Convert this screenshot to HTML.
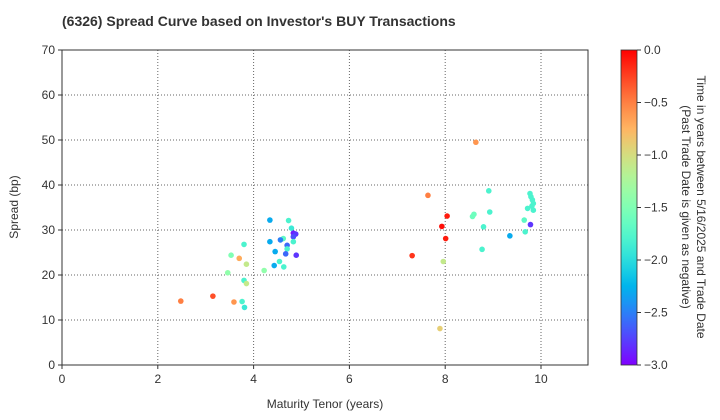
<!DOCTYPE html>
<html><head><meta charset="utf-8"><style>
body{margin:0;background:#fff;}
svg{display:block;font-family:"Liberation Sans","DejaVu Sans",sans-serif;}
</style></head><body>
<svg id="chart" width="720" height="420">
<defs><linearGradient id="cbgrad" x1="0" y1="1" x2="0" y2="0"></linearGradient></defs>
<text x="62" y="26" font-size="14" font-weight="bold" fill="#333">(6326)   Spread Curve based on Investor's BUY Transactions</text>
<g id="grid"></g>
<g id="points"></g>
<rect x="62" y="50" width="526" height="315" fill="none" stroke="#333" stroke-width="1"/>
<g id="xticks"></g>
<g id="yticks"></g>
<text x="325" y="408" font-size="12" text-anchor="middle" fill="#333">Maturity Tenor (years)</text>
<text transform="translate(18,207) rotate(-90)" font-size="12" text-anchor="middle" fill="#333">Spread (bp)</text>
<rect x="621" y="50" width="16" height="315" fill="url(#cbgrad)" stroke="#333" stroke-width="0.8"/>
<g id="cbticks"></g>
<text transform="translate(697,207) rotate(90)" font-size="12" text-anchor="middle" fill="#333"><tspan x="0" dy="0">Time in years between 5/16/2025 and Trade Date</tspan><tspan x="0" dy="15">(Past Trade Date is given as negative)</tspan></text>
</svg>
<script>
const tenors=[2.48,3.15,3.59,3.76,3.81,3.46,3.80,3.85,3.53,3.70,3.85,3.80,4.22,4.34,4.73,4.79,4.83,4.88,4.83,4.83,4.62,4.56,4.34,4.70,4.70,4.45,4.67,4.89,4.54,4.43,4.63,
8.64,7.64,8.04,7.93,8.01,7.31,7.96,7.89,8.91,8.60,8.57,8.93,8.80,8.77,9.35,9.65,9.67,9.78,9.77,9.79,9.82,9.84,9.81,9.72,9.84];
const spreads=[14.2,15.3,14.0,14.1,12.8,20.5,18.8,18.1,24.4,23.7,22.4,26.8,21.0,32.2,32.1,30.4,29.3,29.1,28.5,27.4,28.1,27.8,27.4,26.6,25.8,25.2,24.7,24.4,23.0,22.1,21.8,
49.5,37.7,33.1,30.8,28.1,24.3,23.0,8.1,38.7,33.5,33.0,34.0,30.7,25.7,28.7,32.2,29.6,31.2,38.1,37.4,36.7,35.9,35.3,34.8,34.4];
const times=[-0.5,-0.3,-0.6,-1.8,-1.9,-1.4,-1.8,-1.1,-1.5,-0.7,-1.1,-1.8,-1.4,-2.3,-1.8,-1.9,-2.9,-2.8,-2.7,-1.8,-1.7,-2.5,-2.3,-2.6,-1.8,-2.3,-2.6,-2.8,-1.8,-2.3,-1.8,
-0.6,-0.5,-0.1,-0.05,-0.1,-0.2,-1.1,-0.9,-1.8,-1.6,-1.6,-1.8,-1.8,-1.8,-2.3,-1.7,-1.8,-2.8,-1.8,-1.8,-1.8,-1.8,-1.8,-1.8,-1.8];
const xTickVals=[0,2,4,6,8,10];
const yTickVals=[0,10,20,30,40,50,60,70];
const cbTickVals=[0,-0.5,-1,-1.5,-2,-2.5,-3];
const NS="http://www.w3.org/2000/svg";
const L=62,R=588,T=50,B=365;
const xs=v=>L+v*(541-62)/10;
const ys=v=>B-(v/70)*(B-T);
const cs=v=>B-((v+3)/3)*(B-T);
function rainbow(f){const r=Math.min(1,Math.abs(2*f-0.5)),g=Math.sin(Math.PI*f),b=Math.cos(Math.PI*f/2);return `rgb(${Math.round(r*255)},${Math.round(g*255)},${Math.round(Math.max(0,b)*255)})`;}
function mk(tag,attrs,parent){const e=document.createElementNS(NS,tag);for(const k in attrs)e.setAttribute(k,attrs[k]);parent.appendChild(e);return e;}
const grid=document.getElementById('grid');
xTickVals.forEach(v=>{const l=mk('line',{x1:xs(v),x2:xs(v),y1:T,y2:B,stroke:'#666','stroke-width':1,'stroke-dasharray':'1,2'},grid);

});
yTickVals.forEach(v=>{const l=mk('line',{x1:L,x2:R,y1:ys(v),y2:ys(v),stroke:'#666','stroke-width':1,'stroke-dasharray':'1,2'},grid);

});
const xt=document.getElementById('xticks');
xTickVals.forEach(v=>{mk('line',{x1:xs(v),x2:xs(v),y1:B,y2:B+4,stroke:'#333'},xt);
const t=mk('text',{x:xs(v),y:B+18,'font-size':12,'text-anchor':'middle',fill:'#333'},xt);t.textContent=v;

});
const yt=document.getElementById('yticks');
yTickVals.forEach(v=>{mk('line',{x1:L-4,x2:L,y1:ys(v),y2:ys(v),stroke:'#333'},yt);
const t=mk('text',{x:L-7,y:ys(v)+4,'font-size':12,'text-anchor':'end',fill:'#333'},yt);t.textContent=v;

});
const grad=document.getElementById('cbgrad');
for(let i=0;i<=20;i++){mk('stop',{offset:(i/20),'stop-color':rainbow(i/20)},grad);}
const cb=document.getElementById('cbticks');
cbTickVals.forEach(v=>{mk('line',{x1:637,x2:641,y1:cs(v),y2:cs(v),stroke:'#333'},cb);
const t=mk('text',{x:644,y:cs(v)+4,'font-size':12,fill:'#333'},cb);t.textContent=(v===0?'0.0':'\u2212'+Math.abs(v).toFixed(1));

});
const pts=document.getElementById('points');
tenors.forEach((x,i)=>{const c=mk('circle',{cx:xs(x),cy:ys(spreads[i]),r:2.8,fill:rainbow((times[i]+3)/3)},pts);

});
</script>
</body></html>
